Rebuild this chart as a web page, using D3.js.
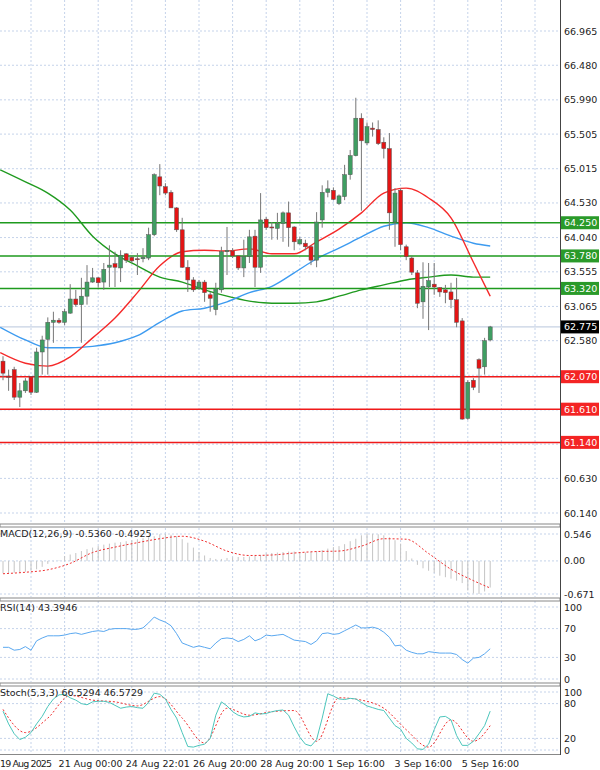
<!DOCTYPE html>
<html>
<head>
<meta charset="utf-8">
<script src="https://cdn.jsdelivr.net/npm/d3@7"></script>
<style>
  body { margin: 0; background: #fff; }
  svg { display: block; font-family: "DejaVu Sans", sans-serif; }
</style>
</head>
<body>
<svg id="chart" width="600" height="770"></svg>
<script>
// candles: open, high, low, close (4h bars)
const opens  = [62.29,62.08,62.17,61.78,61.87,62.07,61.85,62.42,62.60,62.84,62.87,62.84,62.97,63.17,63.09,63.21,63.41,63.47,63.41,63.62,
  63.67,63.61,63.81,63.76,63.74,63.74,63.75,64.08,64.90,64.76,64.68,64.46,64.15,63.62,63.44,63.33,63.41,63.23,63.02,63.30,
  63.84,63.85,63.78,63.61,63.77,64.06,63.62,64.30,64.19,64.17,64.24,64.39,64.19,63.95,63.96,63.91,63.72,64.29,64.68,64.71,
  64.52,64.62,64.93,65.20,65.73,65.38,65.59,65.57,65.39,65.30,64.26,64.71,63.91,63.75,63.54,63.13,63.34,63.38,63.33,63.30,
  63.27,63.16,62.86,61.48,62.02,62.31,62.21,62.59];
const highs  = [62.36,62.17,62.21,61.98,62.05,62.08,62.48,62.65,62.91,62.99,62.90,63.03,63.38,63.30,63.47,63.65,63.61,63.48,63.68,63.93,
  63.84,63.86,63.82,63.78,63.82,63.89,64.18,64.95,65.08,64.81,64.71,64.47,64.32,63.72,63.48,63.44,63.44,63.27,63.40,63.91,
  64.19,63.89,63.79,64.01,64.15,64.15,64.67,64.33,64.26,64.39,64.41,64.55,64.20,64.05,64.01,63.93,64.40,64.78,64.85,64.75,
  64.65,65.07,65.28,66.02,65.80,65.67,65.67,65.70,65.46,65.52,64.74,64.74,63.94,63.78,63.58,63.69,63.68,63.68,63.34,63.37,
  63.40,63.47,62.90,62.02,62.05,62.33,62.62,62.79];
const lows   = [62.02,61.87,61.74,61.64,61.84,61.81,61.84,62.10,62.10,62.55,62.82,62.80,62.96,63.06,62.55,63.09,63.40,63.33,63.30,63.34,
  63.34,63.41,63.68,63.68,63.51,63.69,63.72,64.06,64.64,64.64,64.46,64.12,63.61,63.27,63.27,63.30,63.13,62.99,62.94,63.26,
  63.51,63.75,63.58,63.48,63.68,63.34,63.54,64.15,64.01,64.01,63.98,63.91,63.86,63.94,63.86,63.65,63.62,64.18,64.61,64.57,
  64.50,64.57,64.86,65.19,64.42,65.35,65.47,65.35,65.16,64.15,63.91,63.86,63.72,63.51,63.04,62.89,62.73,63.23,63.20,63.11,
  63.04,62.77,61.46,61.46,61.88,61.84,62.10,62.57];
const closes = [62.12,62.06,61.78,61.87,62.01,61.85,62.42,62.59,62.84,62.87,62.84,62.99,63.17,63.09,63.21,63.41,63.47,63.40,63.59,63.65,
  63.62,63.79,63.72,63.71,63.73,63.76,64.08,64.93,64.77,64.67,64.46,64.15,63.62,63.44,63.30,63.41,63.26,63.18,63.31,63.84,
  63.86,63.78,63.61,63.77,64.05,63.62,64.29,64.18,64.18,64.24,64.39,64.18,63.98,64.01,63.91,63.72,64.26,64.68,64.73,64.58,
  64.63,64.93,65.20,65.73,65.41,65.61,65.57,65.37,65.30,64.39,64.67,63.94,63.77,63.55,63.11,63.35,63.43,63.34,63.27,63.26,
  63.16,62.84,61.47,61.99,61.92,62.19,62.58,62.775];

// moving averages, sampled every 4 bars (first point at the left edge, last at bar 87)
const maBars   = [-0.5,4,8,12,16,20,24,28,32,36,40,44,48,52,56,60,64,68,72,76,80,84,87];
const maRed    = [62.41,62.26,62.22,62.35,62.62,62.90,63.26,63.64,63.84,63.86,63.85,63.88,63.81,63.81,63.98,64.16,64.39,64.67,64.74,64.60,64.32,63.69,63.21];
const maBlue   = [62.77,62.59,62.48,62.48,62.50,62.55,62.65,62.84,63.00,63.04,63.13,63.26,63.35,63.54,63.74,63.89,64.05,64.20,64.25,64.18,64.06,63.96,63.92];
const maGreen  = [65.00,64.83,64.67,64.43,64.06,63.81,63.64,63.48,63.41,63.30,63.21,63.14,63.11,63.11,63.13,63.21,63.30,63.37,63.44,63.48,63.51,63.48,63.48];

const supportLevels = [62.070, 61.610, 61.140];
const resistanceLevels = [64.250, 63.780, 63.320];
const lastPrice = 62.775;
const priceTicks = [66.965,66.480,65.990,65.505,65.015,64.530,64.040,63.555,63.065,62.580,62.090,61.600,61.115,60.630,60.140];

// MACD histogram per bar, signal sampled every 4 bars
const macdHist = [-0.25,-0.25,-0.24,-0.24,-0.22,-0.20,-0.17,-0.12,-0.06,-0.01,0.01,0.10,0.13,0.16,0.20,0.24,0.27,0.30,0.33,0.35,
  0.37,0.38,0.40,0.42,0.44,0.46,0.48,0.50,0.54,0.55,0.53,0.50,0.44,0.37,0.27,0.18,0.11,0.06,0.04,0.04,
  0.06,0.07,0.08,0.08,0.09,0.10,0.12,0.15,0.16,0.17,0.18,0.19,0.19,0.18,0.17,0.18,0.20,0.22,0.25,0.28,
  0.30,0.34,0.40,0.45,0.52,0.55,0.55,0.54,0.52,0.48,0.42,0.35,0.20,0.05,-0.08,-0.15,-0.20,-0.24,-0.30,-0.33,
  -0.36,-0.40,-0.45,-0.60,-0.66,-0.67,-0.62,-0.54];
const macdSignal = [-0.26,-0.23,-0.18,-0.05,0.17,0.28,0.37,0.45,0.50,0.40,0.20,0.11,0.12,0.16,0.19,0.20,0.30,0.45,0.44,0.15,-0.17,-0.40,-0.55];
const sigBars = [0,4,8,12,16,20,24,28,32,36,40,44,48,52,56,60,64,68,72,76,80,84,87];
const macdTicks = [0.546, 0.00, -0.671];

const rsi = [44,44,40,41,45,40,53,57,60,60,60,61,63,64,62,64,66,67,66,69,
  70,70,70,69,69,71,78,86,82,79,74,63,50,47,44,46,44,42,50,56,
  57,56,52,55,60,53,56,61,60,61,62,58,54,53,52,48,53,63,64,62,
  63,67,71,75,71,71,72,70,65,58,46,47,40,37,35,35,38,37,36,36,
  36,34,27,22,29,30,35,42];
const rsiTicks = [100, 70, 30, 0];

const stochK = [67,45,28,18,22,30,45,58,75,88,95,96,90,86,80,78,83,84,84,82,
  77,72,74,75,73,72,82,98,96,88,70,55,30,6,5,8,10,20,60,83,
  76,66,60,57,58,64,62,63,66,68,69,60,40,22,10,7,18,55,97,93,
  88,87,89,88,82,76,73,70,68,55,42,36,20,12,2,1,10,35,57,58,
  52,25,8,8,15,28,42,67];
const stochD = [70,30,55,94,86,83,76,92,55,12,72,60,66,68,15,90,86,72,35,5,52,15,42];
const stochTicks = [100, 80, 20, 0];

const dateLabels = ["19 Aug 2025","21 Aug 00:00","24 Aug 22:01","26 Aug 20:00","28 Aug 20:00","1 Sep 16:00","3 Sep 16:00","5 Sep 16:00"];
const dateBars = [-1, 11, 23, 35, 47, 59, 71, 83];

const svg = d3.select("#chart");
const axisX = 560;
const gridColor = "#c5d3ea";

const x = d3.scaleLinear().domain([0, 87]).range([3, 490.2]);

const panes = {
  main:  { top: 0,   bottom: 524 },
  macd:  { top: 528, bottom: 597 },
  rsi:   { top: 601, bottom: 682 },
  stoch: { top: 686, bottom: 754 }
};

const yMain  = d3.scaleLinear().domain([60.140, 66.965]).range([513, 31]);
const yMacd  = d3.scaleLinear().domain([-0.671, 0.546]).range([594, 534]);
const yRsi   = d3.scaleLinear().domain([0, 100]).range([679, 607]);
const yStoch = d3.scaleLinear().domain([0, 100]).range([750, 692]);

// vertical grid lines every 6 bars
const gridBars = d3.range(5, 100, 6).filter(b => x(b) < axisX);
Object.values(panes).forEach(p => {
  svg.append("g").selectAll("line").data(gridBars).enter().append("line")
    .attr("x1", d => x(d)).attr("x2", d => x(d))
    .attr("y1", p.top).attr("y2", p.bottom)
    .attr("stroke", gridColor).attr("stroke-dasharray", "2,2");
});

function hGrid(ticks, scale, fmt, skip) {
  const g = svg.append("g");
  g.selectAll("line").data(ticks).enter().append("line")
    .attr("x1", 0).attr("x2", axisX)
    .attr("y1", d => scale(d)).attr("y2", d => scale(d))
    .attr("stroke", gridColor).attr("stroke-dasharray", "2,2");
  g.selectAll("text").data(ticks.filter(d => !skip || !skip(d))).enter().append("text")
    .attr("x", axisX + 4).attr("y", d => scale(d) + 3.5)
    .attr("font-size", 9.5).attr("fill", "#222")
    .text(fmt);
}

const levelAll = supportLevels.concat(resistanceLevels, [lastPrice]);
hGrid(priceTicks, yMain, d => d.toFixed(3),
  d => levelAll.some(l => Math.abs(yMain(l) - yMain(d)) < 10));
hGrid(macdTicks, yMacd, d => d === 0 ? "0.00" : d.toFixed(3));
hGrid(rsiTicks, yRsi, d => d);
hGrid(stochTicks, yStoch, d => d);

// current price line
svg.append("line").attr("x1", 0).attr("x2", axisX)
  .attr("y1", yMain(lastPrice)).attr("y2", yMain(lastPrice))
  .attr("stroke", "#b8c6dc").attr("stroke-width", 1);

// moving averages
const maLine = d3.line().x((d, i) => x(maBars[i])).y(d => yMain(d)).curve(d3.curveMonotoneX);
[[maGreen, "#1f9a1f"], [maBlue, "#3d9bf0"], [maRed, "#f52a2a"]].forEach(([data, c]) => {
  svg.append("path").datum(data).attr("d", maLine)
    .attr("fill", "none").attr("stroke", c).attr("stroke-width", 1.4);
});

// horizontal levels
svg.append("g").selectAll("line").data(resistanceLevels).enter().append("line")
  .attr("x1", 0).attr("x2", axisX).attr("y1", d => yMain(d)).attr("y2", d => yMain(d))
  .attr("stroke", "#1e9a1e").attr("stroke-width", 1.5);
svg.append("g").selectAll("line").data(supportLevels).enter().append("line")
  .attr("x1", 0).attr("x2", axisX).attr("y1", d => yMain(d)).attr("y2", d => yMain(d))
  .attr("stroke", "#f01a1a").attr("stroke-width", 1.5);

// candles
const candles = opens.map((o, i) => ({ i, o, h: highs[i], l: lows[i], c: closes[i] }));
const cg = svg.append("g").selectAll("g").data(candles).enter().append("g");
cg.append("line")
  .attr("x1", d => x(d.i)).attr("x2", d => x(d.i))
  .attr("y1", d => yMain(d.h)).attr("y2", d => yMain(d.l))
  .attr("stroke", "#777").attr("stroke-width", 1);
cg.append("rect")
  .attr("x", d => x(d.i) - 2).attr("width", 4)
  .attr("y", d => yMain(Math.max(d.o, d.c)))
  .attr("height", d => Math.max(1, Math.abs(yMain(d.o) - yMain(d.c))))
  .attr("fill", d => d.c >= d.o ? "#3f9e62" : "#e41414")
  .attr("stroke", "#555").attr("stroke-width", 0.5);

// level labels
function levelLabel(v, fill, col) {
  const y = yMain(v);
  svg.append("rect").attr("x", axisX + 1).attr("y", y - 6.5).attr("width", 38).attr("height", 13).attr("fill", fill);
  svg.append("text").attr("x", axisX + 4).attr("y", y + 3.5).attr("font-size", 9.5).attr("fill", col).text(v.toFixed(3));
}
resistanceLevels.forEach(v => levelLabel(v, "#2a9a2a", "#fff"));
supportLevels.forEach(v => levelLabel(v, "#f42424", "#fff"));
levelLabel(lastPrice, "#000", "#fff");

// MACD
svg.append("g").selectAll("line").data(macdHist).enter().append("line")
  .attr("x1", (d, i) => x(i)).attr("x2", (d, i) => x(i))
  .attr("y1", yMacd(0)).attr("y2", d => yMacd(d))
  .attr("stroke", "#c4c4c4").attr("stroke-width", 1);
svg.append("path").datum(macdSignal)
  .attr("d", d3.line().x((d, i) => x(sigBars[i])).y(d => yMacd(d)).curve(d3.curveMonotoneX))
  .attr("fill", "none").attr("stroke", "#f03030").attr("stroke-dasharray", "2,2");

// RSI
svg.append("path").datum(rsi)
  .attr("d", d3.line().x((d, i) => x(i)).y(d => yRsi(d)))
  .attr("fill", "none").attr("stroke", "#5aa8f0").attr("stroke-width", 1);

// Stochastic
svg.append("path").datum(stochD)
  .attr("d", d3.line().x((d, i) => x(sigBars[i])).y(d => yStoch(d)).curve(d3.curveMonotoneX))
  .attr("fill", "none").attr("stroke", "#f03030").attr("stroke-dasharray", "2,2");
svg.append("path").datum(stochK)
  .attr("d", d3.line().x((d, i) => x(i)).y(d => yStoch(d)))
  .attr("fill", "none").attr("stroke", "#4cc6bc").attr("stroke-width", 1);

// pane separators and axis line
[524, 598, 683].forEach(y => {
  svg.append("rect").attr("x", 0).attr("y", y).attr("width", axisX).attr("height", 3)
    .attr("fill", "#fff").attr("stroke", "#888").attr("stroke-width", 1);
});
svg.append("line").attr("x1", 0).attr("x2", axisX).attr("y1", 754.5).attr("y2", 754.5).attr("stroke", "#888");
svg.append("line").attr("x1", axisX + 0.5).attr("x2", axisX + 0.5).attr("y1", 0).attr("y2", 755).attr("stroke", "#444");

// pane titles
const titles = [["MACD(12,26,9) -0.5360 -0.4925", 537], ["RSI(14) 43.3946", 611], ["Stoch(5,3,3) 66.5294 46.5729", 696]];
svg.append("g").selectAll("text").data(titles).enter().append("text")
  .attr("x", 0).attr("y", d => d[1]).attr("font-size", 9.5).attr("fill", "#222").text(d => d[0]);

// date labels
svg.append("g").selectAll("text").data(dateLabels).enter().append("text")
  .attr("x", (d, i) => i === 0 ? 0 : x(dateBars[i]) - 6).attr("y", 767)
  .attr("font-size", 9.5).attr("fill", "#222")
  .attr("textLength", (d, i) => i === 0 ? 52 : null)
  .text(d => d);
</script>
</body>
</html>
